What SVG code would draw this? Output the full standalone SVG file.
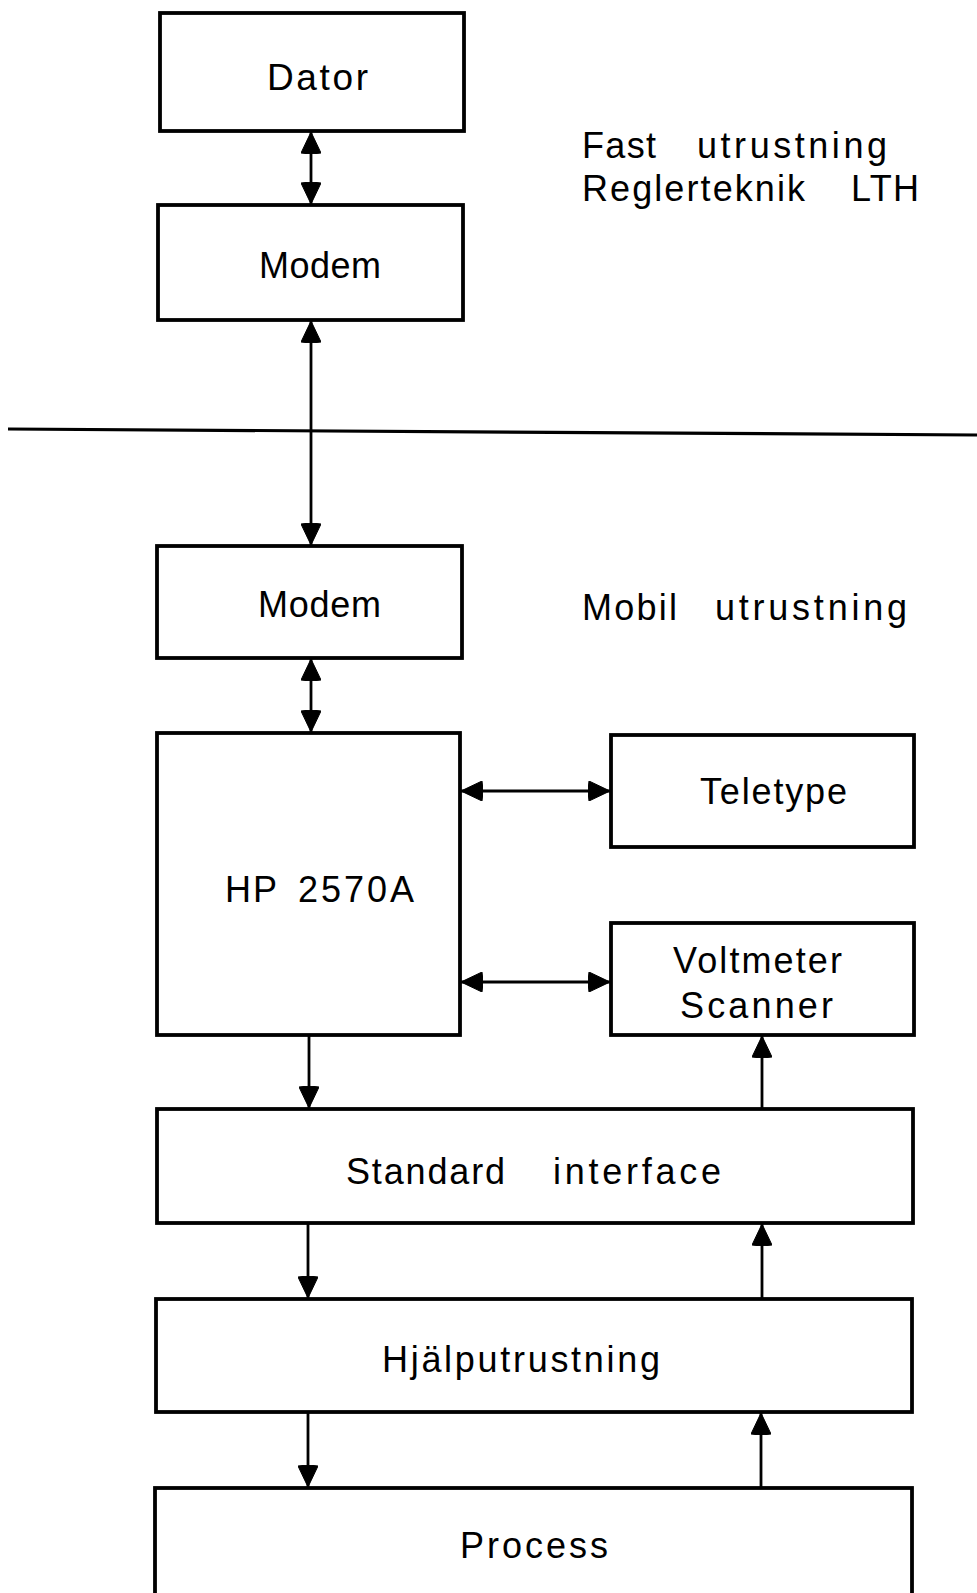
<svg xmlns="http://www.w3.org/2000/svg" width="977" height="1593" viewBox="0 0 977 1593">
<style>
.box{fill:#fff;stroke:#000;stroke-width:3.8}
.lbl{font-family:"Liberation Sans",Arial,sans-serif;font-size:36px;fill:#000}
.con{stroke:#000;stroke-width:2.8;fill:none}
</style>
<defs>
<marker id="ah" viewBox="0 0 22 20" refX="22" refY="10" markerWidth="22" markerHeight="20" markerUnits="userSpaceOnUse" orient="auto-start-reverse">
<path d="M1,0 L22,10 L1,20 Q-1,10 1,0 Z" fill="#000" stroke="#000" stroke-width="1" stroke-linejoin="round"/>
</marker>
</defs>
<rect width="977" height="1593" fill="#fff"/>
<g id="divider"><line x1="8" y1="429" x2="977" y2="435" stroke="#000" stroke-width="3.2"/></g>
<g id="connectors">
<line class="con" x1="311" y1="132" x2="311" y2="204" marker-start="url(#ah)" marker-end="url(#ah)"/>
<line class="con" x1="311" y1="321" x2="311" y2="545" marker-start="url(#ah)" marker-end="url(#ah)"/>
<line class="con" x1="311" y1="659" x2="311" y2="732" marker-start="url(#ah)" marker-end="url(#ah)"/>
<line class="con" x1="461" y1="791" x2="610" y2="791" marker-start="url(#ah)" marker-end="url(#ah)"/>
<line class="con" x1="461" y1="982" x2="610" y2="982" marker-start="url(#ah)" marker-end="url(#ah)"/>
<line class="con" x1="309" y1="1036" x2="309" y2="1108" marker-end="url(#ah)"/>
<line class="con" x1="762" y1="1108" x2="762" y2="1036" marker-end="url(#ah)"/>
<line class="con" x1="308" y1="1224" x2="308" y2="1298" marker-end="url(#ah)"/>
<line class="con" x1="762" y1="1298" x2="762" y2="1224" marker-end="url(#ah)"/>
<line class="con" x1="308" y1="1413" x2="308" y2="1487" marker-end="url(#ah)"/>
<line class="con" x1="761" y1="1487" x2="761" y2="1413" marker-end="url(#ah)"/>
</g>
<g id="dator"><rect class="box" x="160" y="13" width="304" height="118"/>
<text class="lbl" style="font-size:37px" x="267" y="90" textLength="101" lengthAdjust="spacing">Dator</text></g>
<g id="modem1"><rect class="box" x="158" y="205" width="305" height="115"/>
<text class="lbl" x="259" y="278" textLength="122" lengthAdjust="spacing">Modem</text></g>
<g id="fast-label"><text class="lbl"><tspan x="582" y="158" textLength="74" lengthAdjust="spacing">Fast</tspan><tspan x="697" y="158" textLength="190" lengthAdjust="spacing">utrustning</tspan></text>
<text class="lbl"><tspan x="582" y="201" textLength="223" lengthAdjust="spacing">Reglerteknik</tspan><tspan x="851" y="201" textLength="68" lengthAdjust="spacing">LTH</tspan></text></g>
<g id="modem2"><rect class="box" x="157" y="546" width="305" height="112"/>
<text class="lbl" x="258" y="617" textLength="123" lengthAdjust="spacing">Modem</text></g>
<g id="mobil-label"><text class="lbl"><tspan x="582" y="620" textLength="95" lengthAdjust="spacing">Mobil</tspan><tspan x="715" y="620" textLength="192" lengthAdjust="spacing">utrustning</tspan></text></g>
<g id="hp"><rect class="box" x="157" y="733" width="303" height="302"/>
<text class="lbl"><tspan x="225" y="902" textLength="52" lengthAdjust="spacing">HP</tspan><tspan x="298" y="902" textLength="116" lengthAdjust="spacing">2570A</tspan></text></g>
<g id="teletype"><rect class="box" x="611" y="735" width="303" height="112"/>
<text class="lbl" x="700" y="804" textLength="147" lengthAdjust="spacing">Teletype</text></g>
<g id="voltmeter"><rect class="box" x="611" y="923" width="303" height="112"/>
<text class="lbl" x="673" y="973" textLength="169" lengthAdjust="spacing">Voltmeter</text>
<text class="lbl" x="680" y="1018" textLength="153" lengthAdjust="spacing">Scanner</text></g>
<g id="standard"><rect class="box" x="157" y="1109" width="756" height="114"/>
<text class="lbl"><tspan x="346" y="1184" textLength="159" lengthAdjust="spacing">Standard</tspan><tspan x="553" y="1184" textLength="168" lengthAdjust="spacing">interface</tspan></text></g>
<g id="hjalp"><rect class="box" x="156" y="1299" width="756" height="113"/>
<text class="lbl" x="382" y="1372" textLength="278" lengthAdjust="spacing">Hjälputrustning</text></g>
<g id="process"><rect class="box" x="155" y="1488" width="757" height="130"/>
<text class="lbl" x="460" y="1558" textLength="148" lengthAdjust="spacing">Process</text></g>
</svg>
